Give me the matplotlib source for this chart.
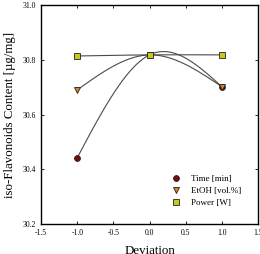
import numpy as np
import matplotlib
matplotlib.use("Agg")
import matplotlib.pyplot as plt

plt.rcParams['font.family'] = ['Liberation Serif', 'DejaVu Serif']

deviation = [-1.0, 0.0, 1.0]
time_vals = [30.442, 30.818, 30.702]
etoh_vals = [30.690, 30.818, 30.702]
power_vals = [30.814, 30.818, 30.818]

series = [
    ("Time [min]", time_vals, 'o', '#7a0a0a'),
    ("EtOH [vol.%]", etoh_vals, 'v', '#d9822b'),
    ("Power [W]", power_vals, 's', '#c8c81e'),
]


def natural_spline(x, y, xs):
    x = np.asarray(x, float)
    y = np.asarray(y, float)
    n = len(x)
    h = np.diff(x)
    A = np.zeros((n, n))
    r = np.zeros(n)
    A[0, 0] = 1
    A[-1, -1] = 1
    for i in range(1, n - 1):
        A[i, i - 1] = h[i - 1]
        A[i, i] = 2 * (h[i - 1] + h[i])
        A[i, i + 1] = h[i]
        r[i] = 6 * ((y[i + 1] - y[i]) / h[i] - (y[i] - y[i - 1]) / h[i - 1])
    M = np.linalg.solve(A, r)
    out = np.empty_like(xs)
    for k, xv in enumerate(xs):
        i = min(max(np.searchsorted(x, xv) - 1, 0), n - 2)
        t0 = x[i + 1] - xv
        t1 = xv - x[i]
        hi = h[i]
        out[k] = (M[i] * t0**3 / (6 * hi) + M[i + 1] * t1**3 / (6 * hi)
                  + (y[i] / hi - M[i] * hi / 6) * t0
                  + (y[i + 1] / hi - M[i + 1] * hi / 6) * t1)
    return out


fig = plt.figure(figsize=(2.6, 2.54), dpi=100)
ax = fig.add_axes([0.158, 0.118, 0.834, 0.862])

xs = np.linspace(-1, 1, 300)
for label, vals, m, c in series:
    ax.plot(xs, natural_spline(deviation, vals, xs), color='#4a4a4a', lw=0.8, zorder=2)
for label, vals, m, c in series:
    ax.plot(deviation, vals, linestyle='none', marker=m, markersize=4.2,
            markerfacecolor=c, markeredgecolor='#222222', markeredgewidth=0.6,
            label=label, zorder=3)

ax.set_xlim(-1.5, 1.5)
ax.set_ylim(30.2, 31.0)
ax.set_xticks([-1.5, -1.0, -0.5, 0.0, 0.5, 1.0, 1.5])
ax.set_yticks([30.2, 30.4, 30.6, 30.8, 31.0])
ax.xaxis.set_major_formatter(matplotlib.ticker.FormatStrFormatter('%.1f'))
ax.yaxis.set_major_formatter(matplotlib.ticker.FormatStrFormatter('%.1f'))
ax.tick_params(direction='in', top=True, right=True, labelsize=5.5, length=2.5, width=0.6)
for s in ax.spines.values():
    s.set_linewidth(1.0)

ax.set_xlabel('Deviation', fontsize=9.3, labelpad=6)
ax.set_ylabel('iso-Flavonoids Content [µg/mg]', fontsize=9.3, labelpad=5)

ax.legend(loc='lower right', frameon=False, fontsize=6.5, handletextpad=0.9,
          borderaxespad=0.0, labelspacing=0.42, handlelength=1.5,
          bbox_to_anchor=(0.94, 0.06))

fig.savefig('out.png', dpi=100)
